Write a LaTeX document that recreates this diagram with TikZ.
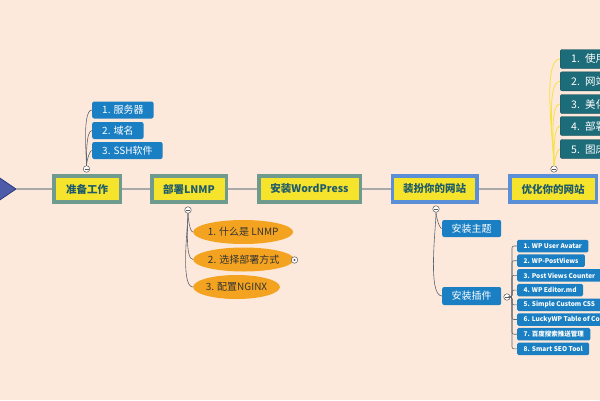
\documentclass[tikz,border=0pt]{standalone}
\usepackage{fontspec}
\setmainfont{Noto Sans CJK SC}
\usetikzlibrary{shapes.geometric}
\definecolor{bgpeach}{HTML}{FDE9DB}
\definecolor{stemgray}{HTML}{A9A9A9}
\definecolor{boxyellow}{HTML}{F6E32B}
\definecolor{rimgreen}{HTML}{6E9B8D}
\definecolor{rimblue}{HTML}{5A8FD8}
\definecolor{titleteal}{HTML}{1E5B6B}
\definecolor{topicblue}{HTML}{1A7FC3}
\definecolor{lnmporange}{HTML}{F3A320}
\definecolor{tealbox}{HTML}{1D6C79}
\definecolor{tealrim}{HTML}{0F4A55}
\definecolor{linkgray}{HTML}{5E6670}
\definecolor{linkyellow}{HTML}{F7E13C}
\definecolor{rootblue}{HTML}{4D5BA8}
\definecolor{rootrim}{HTML}{2B3A80}
\begin{document}
\begin{tikzpicture}[x=1pt,y=-1pt,
    mainbox/.style={draw=rimgreen,line width=3.5pt,fill=boxyellow,text=titleteal,
        font=\bfseries\fontsize{10.5}{12}\selectfont,minimum height=26pt,inner sep=0pt},
    topic/.style={fill=topicblue,text=white,rounded corners=2pt,anchor=west,
        font=\fontsize{10}{12}\selectfont,minimum height=17pt,inner xsep=10pt,inner ysep=0pt},
    bubble/.style={ellipse,fill=lnmporange,text=black!80,anchor=west,
        font=\fontsize{10}{12}\selectfont,minimum height=24pt,inner sep=0pt},
    leaf/.style={fill=topicblue,text=white,rounded corners=1.5pt,anchor=west,
        font=\bfseries\fontsize{6.5}{7}\selectfont,minimum height=12.5pt,inner xsep=6.5pt,inner ysep=0pt},
    tip/.style={fill=tealbox,draw=tealrim,text=white,rounded corners=2pt,anchor=west,
        font=\fontsize{10.5}{12}\selectfont,minimum height=19pt,text width=60pt,
        align=left,inner xsep=11pt,inner ysep=0pt},
    knob/.style={circle,draw=gray!70!black,fill=white,line width=0.5pt,minimum size=6.5pt,inner sep=0pt,
        path picture={\draw[gray!70!black,line width=0.4pt]
            ([xshift=-2pt]path picture bounding box.center) -- ([xshift=2pt]path picture bounding box.center);}},
    knobshut/.style={circle,draw=gray!70!black,fill=white,line width=0.5pt,minimum size=6.5pt,inner sep=0pt,
        path picture={\fill[gray!70!black] (path picture bounding box.center) circle (1.1pt);}},
    stem/.style={stemgray,line width=1.5pt},
    link/.style={linkgray,line width=0.6pt}]
    \useasboundingbox (0,0) rectangle (600,400);
    \clip (0,0) rectangle (600,400);
    \fill[bgpeach] (0,0) rectangle (600,400);
    % root arrow at the left edge
    \filldraw[fill=rootblue,draw=rootrim,line width=0.8pt] (-12,170) -- (16,189) -- (-12,208) -- cycle;
    \coordinate (root) at (16,189);
    % main steps
    \node[mainbox,minimum width=66.5pt] (prep) at (87,189) {准备工作};
    \node[mainbox,minimum width=74.5pt] (lnmp) at (189,189) {部署LNMP};
    \node[mainbox,minimum width=101.5pt] (wp) at (309.5,189) {安装WordPress};
    \node[mainbox,draw=rimblue,minimum width=84.5pt] (dress) at (434.5,189) {装扮你的网站};
    \node[mainbox,draw=rimblue,minimum width=86.5pt] (tune) at (553,189) {优化你的网站};
    \draw[stem] (root) -- (prep.west);
    \draw[stem] (prep.east) -- (lnmp.west);
    \draw[stem] (lnmp.east) -- (wp.west);
    \draw[stem] (wp.east) -- (dress.west);
    \draw[stem] (dress.east) -- (tune.west);
    % prep children
    \node[knob] (kprep) at (86.5,169) {};
    \foreach \t/\y/\n in {1. 服务器/110/s1, 2. 域名/130.5/s2, 3. SSH软件/150.5/s3} {
        \node[topic] (\n) at (92,\y) {\t};
        \draw[link] (kprep.north) to[out=90,in=180,looseness=0.45] (\n.west);
    }
    % lnmp children
    \node[knob] (klnmp) at (188,210) {};
    \node[bubble,minimum width=97pt] (o1) at (193,232) {1. 什么是 LNMP};
    \node[bubble,minimum width=97pt] (o2) at (193,259.5) {2. 选择部署方式};
    \node[bubble,minimum width=86pt] (o3) at (193,287) {3. 配置NGINX};
    \foreach \n in {o1,o2,o3}
        \draw[link] (klnmp.south) to[out=-90,in=180,looseness=0.45] (\n.west);
    \node[knobshut] (kway) at (294.5,260) {};
    % dress children
    \node[knob] (kdress) at (436,209) {};
    \node[topic,inner xsep=9.5pt] (theme) at (442,228.5) {安装主题};
    \node[topic,inner xsep=9.5pt,minimum height=18pt] (plug) at (442,296) {安装插件};
    \foreach \n in {theme,plug}
        \draw[link] (kdress.south) to[out=-90,in=180,looseness=0.45] (\n.west);
    % plugin list
    \node[knob] (kplug) at (507,297) {};
    \foreach \t [count=\i] in {1. WP User Avatar, 2. WP-PostViews, 3. Post Views Counter,
            4. WP Editor.md, 5. Simple Custom CSS, 6. LuckyWP Table of Co,
            7. 百度搜索推送管理, 8. Smart SEO Tool} {
        \node[leaf] (p\i) at (517,{231.3+14.7*\i}) {\t};
        \draw[link,rounded corners=2pt] (kplug.east) -- ++(1.5,0) |- (p\i.west);
    }
    % tune children
    \node[knob] (ktune) at (554,169) {};
    \foreach \t/\y/\n in {1. 使用/59/u1, 2. 网站/81.3/u2, 3. 美化/104/u3, 4. 部署/126/u4, 5. 图床/149/u5} {
        \node[tip] (\n) at (560,\y) {\t};
        \draw[linkyellow,line width=0.8pt] (ktune.north) to[out=90,in=180,looseness=0.45] (\n.west);
    }
\end{tikzpicture}
\end{document}
